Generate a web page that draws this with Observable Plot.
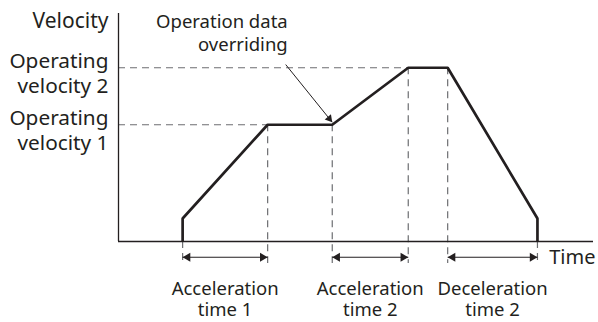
<!DOCTYPE html>
<html>
<head>
<meta charset="utf-8">
<script src="https://cdn.jsdelivr.net/npm/d3@7"></script>
<script src="https://cdn.jsdelivr.net/npm/@observablehq/plot@0.6"></script>
<style>
  html, body { margin: 0; padding: 0; background: #fff; }
</style>
</head>
<body>
<div id="chart"></div>
<script>
// ---- data (arbitrary time / velocity units) ----
const profileTime = [13.5, 13.5, 31.4, 45, 61, 69.3, 88.2, 88.2];
const profileVelocity = [0, 10.1, 51.2, 51.2, 76.2, 76.2, 10.1, 0];

const levelNames = ["Operating\nvelocity 1", "Operating\nvelocity 2"];
const levelValues = [51.2, 76.2];
const levelEnds = [31.4, 61];

const guideTimes = [13.5, 31.4, 45, 61, 69.3, 88.2];
const guideTops = [0, 51.2, 51.2, 76.2, 76.2, 0];
const guideBottom = -9.65;

const intervalStarts = [13.5, 45, 69.3];
const intervalEnds = [31.4, 61, 88.2];
const intervalLabels = ["Acceleration\ntime 1", "Acceleration\ntime 2", "Deceleration\ntime 2"];
const intervalLevel = -6.9;

const noteText = "Operation data\noverriding";
const noteFrom = {x: 35.2, y: 77.6};
const noteTo = {x: 45, y: 52.3};

const yAxisLabel = "Velocity";
const xAxisLabel = "Time";
const axisMax = 100;

// ---- derived tables ----
const profile = profileTime.map((t, i) => ({t, v: profileVelocity[i]}));
const levels = levelNames.map((name, i) => ({name, v: levelValues[i], end: levelEnds[i]}));
const guides = guideTimes.map((t, i) => ({t, top: guideTops[i]}));
const intervals = intervalStarts.map((s, i) => ({s, e: intervalEnds[i], label: intervalLabels[i], mid: (s + intervalEnds[i]) / 2}));

const ink = "#231f20";
const dash = "#6d6e71";

const chart = Plot.plot({
  width: 598,
  height: 322,
  marginLeft: 118,
  marginRight: 5,
  marginTop: 13,
  marginBottom: 81,
  x: {domain: [0, axisMax], axis: null},
  y: {domain: [0, axisMax], axis: null},
  style: {fontFamily: "'Noto Sans', sans-serif", color: ink, background: "#fff", overflow: "visible"},
  marks: [
    // dashed guides
    Plot.ruleY(levels, {y: "v", x1: 0, x2: "end", stroke: dash, strokeWidth: 1.2, strokeDasharray: "7,5"}),
    Plot.ruleX(guides, {x: "t", y1: "top", y2: guideBottom, stroke: dash, strokeWidth: 1.2, strokeDasharray: "7,5"}),
    // axes
    Plot.ruleX([0], {y1: 0, y2: axisMax, stroke: ink, strokeWidth: 1.3}),
    Plot.ruleY([0], {x1: 0, x2: axisMax, stroke: ink, strokeWidth: 1.3}),
    // velocity profile
    Plot.line(profile, {x: "t", y: "v", stroke: ink, strokeWidth: 2.7, strokeLinejoin: "miter", strokeLinecap: "butt", curve: "linear"}),
    // interval double arrows
    Plot.link(intervals, {x1: "s", x2: "e", y1: intervalLevel, y2: intervalLevel, stroke: ink, strokeWidth: 1.1}),
    Plot.dot(intervals, {x: "s", y: intervalLevel, symbol: "triangle", r: 3.3, rotate: -90, dx: 5.1, fill: ink, stroke: "none"}),
    Plot.dot(intervals, {x: "e", y: intervalLevel, symbol: "triangle", r: 3.3, rotate: 90, dx: -5.1, fill: ink, stroke: "none"}),
    Plot.text(intervals, {x: "mid", y: intervalLevel, text: "label", lineAnchor: "top", lineHeight: 1.14, dy: 22.5, fontSize: 18.5, fill: ink}),
    // note with leader arrow
    Plot.link([noteFrom], {x1: "x", y1: "y", x2: () => noteTo.x, y2: () => noteTo.y, stroke: ink, strokeWidth: 1}),
    Plot.dot([noteTo], {x: "x", y: "y", symbol: "triangle", r: 3, rotate: 140.8, dx: -2.95, dy: -3.62, fill: ink, stroke: "none"}),
    Plot.text([noteFrom], {x: "x", y: "y", text: () => noteText, textAnchor: "end", lineAnchor: "bottom", lineHeight: 1.24, dx: 2, dy: -14, fontSize: 18.5, fill: ink}),
    // level labels
    Plot.text(levels, {x: 0, y: "v", text: "name", textAnchor: "end", lineAnchor: "middle", lineHeight: 1.17, dx: -10, dy: 5, fontSize: 20.8, fill: ink}),
    // axis titles
    Plot.text([yAxisLabel], {x: 0, y: axisMax, text: d => d, textAnchor: "end", dx: -10, dy: 7.6, fontSize: 21, fill: ink}),
    Plot.text([xAxisLabel], {x: axisMax, y: 0, text: d => d, textAnchor: "end", dx: 2, dy: 15.6, fontSize: 20, fill: ink})
  ]
});
document.getElementById("chart").append(chart);
</script>
</body>
</html>
